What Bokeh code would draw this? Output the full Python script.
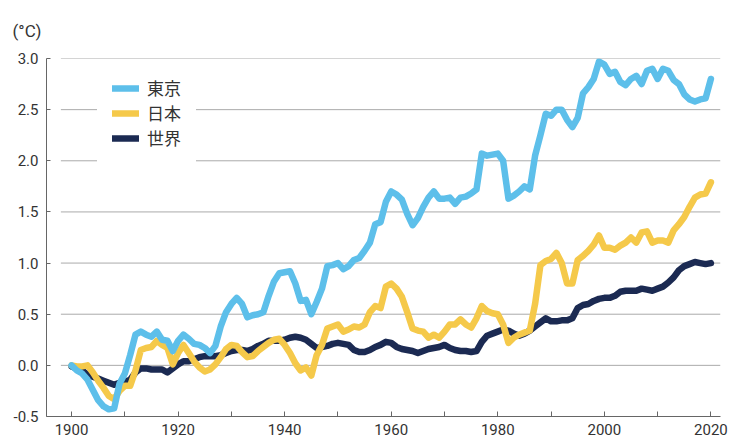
from bokeh.plotting import figure
from bokeh.models import FixedTicker, Range1d, Legend, LegendItem, Title, PrintfTickFormatter
from bokeh.embed import file_html
from bokeh.resources import INLINE

years = list(range(1900, 2021))

tokyo = [
    0.00, -0.05, -0.08, -0.14, -0.24, -0.34, -0.40, -0.43, -0.42, -0.18,
    -0.08, 0.10, 0.30, 0.33, 0.30, 0.28, 0.33, 0.25, 0.24, 0.14,
    0.24, 0.30, 0.26, 0.21, 0.20, 0.17, 0.12, 0.19, 0.38, 0.52,
    0.60, 0.66, 0.60, 0.47, 0.49, 0.50, 0.52, 0.68, 0.82, 0.90,
    0.91, 0.92, 0.80, 0.63, 0.64, 0.50, 0.62, 0.75, 0.97, 0.98,
    1.00, 0.94, 0.97, 1.03, 1.05, 1.12, 1.20, 1.38, 1.40, 1.60,
    1.70, 1.67, 1.62, 1.48, 1.37, 1.44, 1.55, 1.64, 1.70, 1.63,
    1.63, 1.64, 1.58, 1.64, 1.65, 1.68, 1.72, 2.07, 2.05, 2.06,
    2.07, 2.00, 1.63, 1.66, 1.70, 1.75, 1.72, 2.05, 2.25, 2.46,
    2.44, 2.50, 2.50, 2.40, 2.33, 2.42, 2.66, 2.72, 2.80, 2.97,
    2.94, 2.85, 2.87, 2.77, 2.74, 2.80, 2.83, 2.75, 2.88, 2.90,
    2.80, 2.90, 2.88, 2.79, 2.75, 2.65, 2.60, 2.58, 2.60, 2.61,
    2.80,
]

japan = [
    0.00, -0.01, -0.01, 0.00, -0.07, -0.15, -0.22, -0.30, -0.33, -0.25,
    -0.20, -0.20, -0.05, 0.15, 0.17, 0.18, 0.24, 0.20, 0.17, 0.01,
    0.12, 0.20, 0.12, 0.04, -0.02, -0.06, -0.04, 0.01, 0.08, 0.16,
    0.20, 0.19, 0.13, 0.08, 0.09, 0.14, 0.18, 0.22, 0.25, 0.26,
    0.20, 0.12, 0.02, -0.05, -0.02, -0.10, 0.10, 0.20, 0.36, 0.38,
    0.40, 0.33, 0.35, 0.38, 0.37, 0.40, 0.52, 0.58, 0.56, 0.77,
    0.80, 0.75, 0.67, 0.52, 0.36, 0.34, 0.33, 0.27, 0.30, 0.27,
    0.33, 0.40, 0.40, 0.45, 0.40, 0.37, 0.46, 0.58, 0.53, 0.51,
    0.50, 0.40, 0.22, 0.27, 0.30, 0.32, 0.34, 0.60, 0.98, 1.02,
    1.04, 1.10, 1.00, 0.80, 0.80, 1.03, 1.07, 1.12, 1.18, 1.27,
    1.15, 1.15, 1.13, 1.17, 1.20, 1.25, 1.20, 1.30, 1.31, 1.20,
    1.22, 1.22, 1.20, 1.32, 1.38, 1.45, 1.55, 1.64, 1.67, 1.68,
    1.79,
]

world = [
    -0.01, -0.03, -0.05, -0.09, -0.11, -0.13, -0.15, -0.17, -0.19, -0.17,
    -0.16, -0.14, -0.07, -0.03, -0.03, -0.04, -0.04, -0.04, -0.07, -0.03,
    0.01, 0.04, 0.04, 0.06, 0.08, 0.09, 0.09, 0.09, 0.10, 0.12,
    0.14, 0.15, 0.15, 0.14, 0.16, 0.19, 0.21, 0.24, 0.24, 0.24,
    0.25, 0.27, 0.28, 0.27, 0.25, 0.21, 0.17, 0.18, 0.19, 0.21,
    0.22, 0.21, 0.20, 0.15, 0.13, 0.13, 0.15, 0.18, 0.20, 0.23,
    0.22, 0.18, 0.16, 0.15, 0.14, 0.12, 0.14, 0.16, 0.17, 0.18,
    0.20, 0.17, 0.15, 0.14, 0.14, 0.13, 0.14, 0.23, 0.29, 0.31,
    0.33, 0.35, 0.34, 0.31, 0.29, 0.31, 0.34, 0.38, 0.42, 0.46,
    0.43, 0.43, 0.44, 0.44, 0.46, 0.56, 0.59, 0.60, 0.63, 0.65,
    0.66, 0.66, 0.68, 0.72, 0.73, 0.73, 0.73, 0.75, 0.74, 0.73,
    0.75, 0.77, 0.81, 0.86, 0.93, 0.97, 0.99, 1.01, 1.00, 0.99,
    1.00,
]

series_names = ["東京", "日本", "世界"]
y_ticks = [-0.5, 0.0, 0.5, 1.0, 1.5, 2.0, 2.5, 3.0]
x_major = [1900, 1920, 1940, 1960, 1980, 2000, 2020]
x_minor = [1910, 1930, 1950, 1970, 1990, 2010]
unit_label = "(°C)"

C_TOKYO = "#5DBFEA"
C_JAPAN = "#F5C94A"
C_WORLD = "#1B2A52"
TXT = "#333333"
AX = "#666666"
GRID = "#AAAAAA"
FONT = "Roboto"
LW = 6.5

X0, X1 = 1895.3, 2021.8
GRID_X0 = 1898.0

p = figure(width=729, height=441, output_backend="svg", toolbar_location=None,
           x_range=Range1d(X0, X1), y_range=Range1d(-0.5, 3.0),
           min_border_left=46, min_border_right=9, min_border_top=58, min_border_bottom=25)
p.outline_line_color = None
p.grid.visible = False

# horizontal gridlines (start a little to the right of the y axis)
gy = [t for t in y_ticks if t > y_ticks[0]]
p.segment(x0=[GRID_X0] * len(gy), x1=[X1] * len(gy), y0=gy, y1=gy,
          line_color=GRID, line_width=1)

r_world = p.line(years, world, line_width=LW, line_color=C_WORLD, line_cap="round", line_join="round")
r_japan = p.line(years, japan, line_width=LW, line_color=C_JAPAN, line_cap="round", line_join="round")
r_tokyo = p.line(years, tokyo, line_width=LW, line_color=C_TOKYO, line_cap="round", line_join="round")

# axes
xa = p.xaxis[0]
xa.ticker = FixedTicker(ticks=x_major, minor_ticks=x_minor)
xa.major_tick_in = 5
xa.major_tick_out = 0
xa.minor_tick_in = 5
xa.minor_tick_out = 0
xa.major_tick_line_color = AX
xa.minor_tick_line_color = AX
xa.axis_line_color = AX
xa.major_label_text_font = FONT
xa.major_label_text_font_size = "15px"
xa.major_label_text_color = TXT
xa.major_label_standoff = 7

ya = p.yaxis[0]
ya.ticker = FixedTicker(ticks=y_ticks)
ya.formatter = PrintfTickFormatter(format="%.1f")
ya.major_tick_in = 4
ya.major_tick_out = 0
ya.minor_tick_line_color = None
ya.major_tick_line_color = AX
ya.axis_line_color = AX
ya.major_label_text_font = FONT
ya.major_label_text_font_size = "15px"
ya.major_label_text_color = TXT
ya.major_label_standoff = 8

legend = Legend(items=[LegendItem(label=series_names[0], renderers=[r_tokyo]),
                       LegendItem(label=series_names[1], renderers=[r_japan]),
                       LegendItem(label=series_names[2], renderers=[r_world])],
                location=(51, 251), orientation="vertical",
                glyph_width=27, glyph_height=20, label_height=20, spacing=0,
                padding=15, margin=0, label_standoff=8,
                label_text_font="Noto Sans CJK JP", label_text_font_size="17px",
                label_text_color=TXT, background_fill_color="white",
                background_fill_alpha=1.0, border_line_alpha=0)
p.add_layout(legend)

p.add_layout(Title(text=unit_label, align="left", offset=-34, standoff=35,
                   text_font=FONT, text_font_size="17px", text_font_style="normal",
                   text_color=TXT), "above")

open("out.html", "w").write(file_html(p, INLINE))
